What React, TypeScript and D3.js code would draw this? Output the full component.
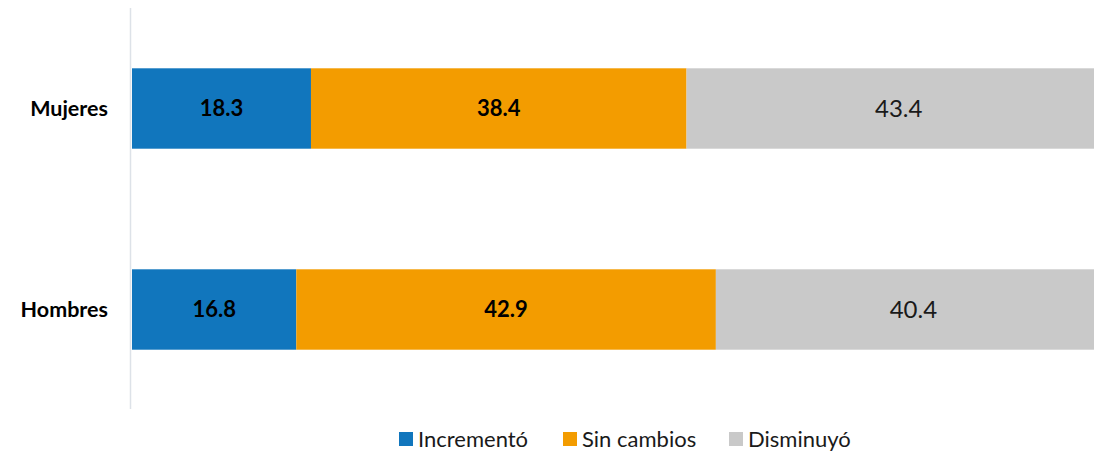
import React from "react";
import * as d3 from "d3";

const categories = ["Mujeres", "Hombres"];
const seriesNames = ["Incrementó", "Sin cambios", "Disminuyó"];
const incremento = [18.3, 16.8];
const sinCambios = [38.4, 42.9];
const disminuyo = [43.4, 40.4];
const seriesColors = ["#1176BD", "#F39C00", "#C9C9C9"];

const W = 1094;
const H = 452;
const FONT = "Lato, 'Open Sans', sans-serif";

export default function App() {
  const x = d3.scaleLinear().domain([0, 100]).range([132, 1110]);
  const y = d3
    .scaleBand<string>()
    .domain(categories)
    .range([8, 410])
    .paddingInner(0.6)
    .paddingOuter(0.3);

  const rows = categories.map((c, i) => ({
    cat: c,
    Incrementó: incremento[i],
    "Sin cambios": sinCambios[i],
    Disminuyó: disminuyo[i],
  }));
  const stack = d3.stack<any>().keys(seriesNames)(rows);

  const legendX = [399, 563, 729];

  return (
    <svg
      width={W}
      height={H}
      style={{ position: "absolute", left: 0, top: 0, background: "#fff" }}
      fontFamily={FONT}
    >
      {stack.map((layer, si) =>
        layer.map((d, ci) => {
          const x0 = x(d[0]);
          const x1 = x(d[1]);
          const yy = y(categories[ci])!;
          const bw = y.bandwidth();
          const val = rows[ci][seriesNames[si] as "Incrementó"];
          const isGray = si === 2;
          return (
            <g key={`${si}-${ci}`}>
              <rect x={x0} y={yy} width={x1 - x0} height={bw} fill={seriesColors[si]} />
              <text
                x={(x0 + x1) / 2}
                y={yy + bw / 2}
                dy="0.36em"
                textAnchor="middle"
                fontSize={isGray ? 24 : 22}
                fontWeight={isGray ? 400 : 700}
                fill={isGray ? "#1a1a1a" : "#000"}
              >
                {val.toFixed(1)}
              </text>
            </g>
          );
        })
      )}
      <line x1={130.5} x2={130.5} y1={8} y2={409} stroke="#dde2e8" strokeWidth={1.5} />
      {categories.map((c) => (
        <text
          key={c}
          x={108}
          y={y(c)! + y.bandwidth() / 2}
          dy="0.36em"
          textAnchor="end"
          fontSize={21.5}
          fontWeight={700}
          fill="#000"
        >
          {c}
        </text>
      ))}
      {seriesNames.map((s, i) => (
        <g key={s}>
          <rect x={legendX[i]} y={432} width={14} height={14} fill={seriesColors[i]} />
          <text x={legendX[i] + 19} y={439.5} dy="0.36em" fontSize={22} fill="#1a1a1a">
            {s}
          </text>
        </g>
      ))}
    </svg>
  );
}
